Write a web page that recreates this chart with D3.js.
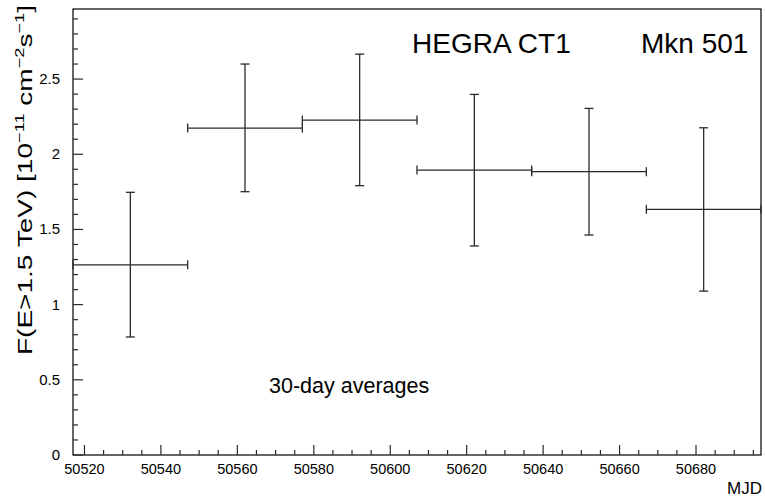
<!DOCTYPE html>
<html><head><meta charset="utf-8">
<script src="https://cdn.jsdelivr.net/npm/d3@7"></script>
<style>body{margin:0;background:#fff}svg{display:block}text{font-family:"Liberation Sans",Arial,Helvetica,sans-serif;fill:#000}</style>
</head><body>
<script>
const binCenters = [50532, 50562, 50592, 50622, 50652, 50682];
const binHalfWidth = [15, 15, 15, 15, 15, 15];
const fluxValues = [1.265, 2.174, 2.227, 1.895, 1.884, 1.634];
const errUpper = [1.747, 2.600, 2.666, 2.398, 2.305, 2.176];
const errLower = [0.785, 1.751, 1.791, 1.390, 1.463, 1.090];
const xTickLabels = [50520, 50540, 50560, 50580, 50600, 50620, 50640, 50660, 50680];
const yTickLabels = [0, 0.5, 1, 1.5, 2, 2.5];

const W = 765, H = 499;
const m = {l: 73, r: 4, t: 9, b: 44};
const svg = d3.select("body").append("svg").attr("width", W).attr("height", H);
const x = d3.scaleLinear().domain([50517, 50697]).range([m.l, W - m.r]);
const y = d3.scaleLinear().domain([0, 2.966]).range([H - m.b, m.t]);
const col = "#2a2a2a";

// frame
svg.append("rect").attr("x", m.l).attr("y", m.t).attr("width", x.range()[1]-m.l).attr("height", y.range()[0]-m.t)
  .attr("fill", "none").attr("stroke", "#000").attr("stroke-width", 1.2);

// x ticks
const xMinor = d3.range(50520, 50697, 5);
svg.append("g").selectAll("line").data(xMinor).join("line")
  .attr("x1", d => x(d)).attr("x2", d => x(d))
  .attr("y1", y(0)).attr("y2", d => y(0) - (d % 20 === 0 ? 10 : 5))
  .attr("stroke", col).attr("stroke-width", 1.2);
svg.append("g").selectAll("text").data(xTickLabels).join("text")
  .attr("x", d => x(d)).attr("y", 473.5).attr("text-anchor", "middle")
  .attr("font-size", 14.5).text(d => d);
svg.append("text").attr("x", 762).attr("y", 494).attr("text-anchor", "end").attr("font-size", 17).text("MJD");

// y ticks
const yMinor = d3.range(0, 29.6).map(i => i / 10);
svg.append("g").selectAll("line").data(yMinor).join("line")
  .attr("x1", m.l).attr("x2", (d, i) => m.l + (i % 5 === 0 ? 10 : 5))
  .attr("y1", d => y(d)).attr("y2", d => y(d))
  .attr("stroke", col).attr("stroke-width", 1.2);
svg.append("g").selectAll("text").data(yTickLabels).join("text")
  .attr("x", 60).attr("y", d => y(d) + 5).attr("text-anchor", "end")
  .attr("font-size", 15).text(d => d);

// y label
const yl = svg.append("text").attr("transform", "translate(32,180) rotate(-90)")
  .attr("text-anchor", "middle").attr("font-size", 20)
  .attr("textLength", 350).attr("lengthAdjust", "spacingAndGlyphs");
yl.append("tspan").text("F(E>1.5 TeV) [10");
yl.append("tspan").attr("dy", -8).attr("font-size", 13).text("−11");
yl.append("tspan").attr("dy", 8).text(" cm");
yl.append("tspan").attr("dy", -8).attr("font-size", 13).text("−2");
yl.append("tspan").attr("dy", 8).text("s");
yl.append("tspan").attr("dy", -8).attr("font-size", 13).text("−1");
yl.append("tspan").attr("dy", 8).text("]");

// data
const pts = binCenters.map((c, i) => ({c, h: binHalfWidth[i], v: fluxValues[i], hi: errUpper[i], lo: errLower[i]}));
const g = svg.append("g").attr("stroke", col).attr("stroke-width", 1.3).attr("fill", "none");
pts.forEach(p => {
  g.append("line").attr("x1", x(p.c - p.h)).attr("x2", x(p.c + p.h)).attr("y1", y(p.v)).attr("y2", y(p.v));
  g.append("line").attr("x1", x(p.c)).attr("x2", x(p.c)).attr("y1", y(p.hi)).attr("y2", y(p.lo));
  [p.hi, p.lo].forEach(e => g.append("line").attr("x1", x(p.c) - 4.5).attr("x2", x(p.c) + 4.5).attr("y1", y(e)).attr("y2", y(e)));
  [p.c - p.h, p.c + p.h].forEach(e => g.append("line").attr("x1", x(e)).attr("x2", x(e)).attr("y1", y(p.v) - 4.5).attr("y2", y(p.v) + 4.5));
});

svg.append("text").attr("x", 412).attr("y", 53).attr("font-size", 28).text("HEGRA CT1");
svg.append("text").attr("x", 641).attr("y", 53).attr("font-size", 28).text("Mkn 501");
svg.append("text").attr("x", 269).attr("y", 393).attr("font-size", 21.5).text("30-day averages");
</script>
</body></html>
